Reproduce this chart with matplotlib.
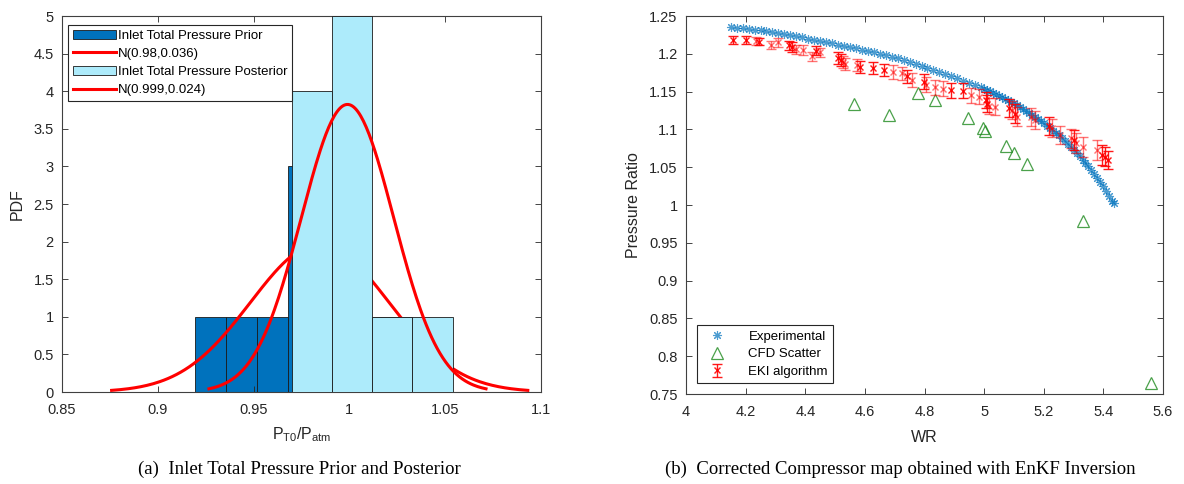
import matplotlib
matplotlib.use('Agg')
import matplotlib.pyplot as plt
import numpy as np

plt.rcParams['font.family'] = ['Liberation Sans', 'DejaVu Sans']
plt.rcParams['mathtext.fontset'] = 'custom'
plt.rcParams['mathtext.rm'] = 'Liberation Sans'
plt.rcParams['mathtext.it'] = 'Liberation Sans'

# %%
# (a) histogram data: bin edges and counts, plus fitted normals
prior_edges = [0.9195, 0.9357, 0.9519, 0.9681, 0.9843, 1.0005, 1.0167, 1.0329]
prior_counts = [1, 1, 1, 3, 3, 1, 1]
post_edges = [0.9698, 0.9908, 1.0117, 1.0327, 1.0539]
post_counts = [4, 5, 1, 1]
prior_mu, prior_sd = 0.9845, 0.0362
post_mu, post_sd = 0.999, 0.0241
hist_labels = ['Inlet Total Pressure Prior', 'N(0.98,0.036)',
               'Inlet Total Pressure Posterior', 'N(0.999,0.024)']

# (b) compressor map data
exp_wr = [4.15, 4.17, 4.19, 4.21, 4.23, 4.25, 4.27, 4.29, 4.31, 4.33,
          4.35, 4.37, 4.39, 4.41, 4.43, 4.45, 4.47, 4.49, 4.51, 4.53,
          4.55, 4.57, 4.59, 4.61, 4.63, 4.65, 4.67, 4.69, 4.71, 4.73,
          4.75, 4.77, 4.79, 4.81, 4.83, 4.85, 4.87, 4.89, 4.91, 4.93,
          4.95, 4.97, 4.99, 5.00, 5.01, 5.02, 5.03, 5.04, 5.05, 5.06,
          5.07, 5.08, 5.09, 5.10, 5.11, 5.12, 5.13, 5.14, 5.15, 5.16,
          5.17, 5.18, 5.19, 5.20, 5.21, 5.22, 5.23, 5.24, 5.25, 5.26,
          5.27, 5.28, 5.29, 5.30, 5.31, 5.32, 5.33, 5.34, 5.35, 5.36,
          5.37, 5.38, 5.39, 5.40, 5.41, 5.42, 5.43, 5.434]
exp_pr = [1.2355, 1.2347, 1.2339, 1.2330, 1.2320, 1.2310, 1.2298, 1.2286, 1.2273, 1.2259,
          1.2245, 1.2231, 1.2217, 1.2202, 1.2186, 1.2170, 1.2154, 1.2138, 1.2122, 1.2106,
          1.2090, 1.2073, 1.2056, 1.2038, 1.2019, 1.2000, 1.1980, 1.1960, 1.1938, 1.1914,
          1.1890, 1.1866, 1.1842, 1.1817, 1.1791, 1.1765, 1.1735, 1.1705, 1.1675, 1.1645,
          1.1615, 1.1585, 1.1555, 1.1540, 1.1521, 1.1502, 1.1483, 1.1464, 1.1445, 1.1425,
          1.1405, 1.1385, 1.1365, 1.1345, 1.1320, 1.1295, 1.1270, 1.1245, 1.1220, 1.1192,
          1.1164, 1.1136, 1.1108, 1.1080, 1.1048, 1.1016, 1.0984, 1.0952, 1.0920, 1.0882,
          1.0844, 1.0806, 1.0768, 1.0730, 1.0686, 1.0642, 1.0598, 1.0554, 1.0510, 1.0458,
          1.0406, 1.0354, 1.0302, 1.0250, 1.0184, 1.0118, 1.0052, 1.0020]

cfd_wr = [4.564, 4.682, 4.777, 4.835, 4.946, 4.995, 5.004, 5.074, 5.100, 5.144, 5.333, 5.559]
cfd_pr = [1.1331, 1.1191, 1.1476, 1.1388, 1.1155, 1.1015, 1.0984, 1.0782, 1.0694, 1.0545, 0.9793, 0.7640]

eki_wr = [4.158, 4.201, 4.236, 4.246, 4.285, 4.308, 4.347, 4.357, 4.370, 4.391,
          4.424, 4.437, 4.450, 4.509, 4.519, 4.527, 4.533, 4.574, 4.583, 4.627,
          4.664, 4.695, 4.726, 4.742, 4.757, 4.800, 4.806, 4.835, 4.862, 4.890,
          4.930, 4.955, 4.983, 5.005, 5.011, 5.017, 5.036, 5.085, 5.094, 5.102,
          5.110, 5.157, 5.172, 5.216, 5.226, 5.253, 5.290, 5.302, 5.308, 5.333,
          5.377, 5.395, 5.404, 5.416]
eki_pr = [1.218, 1.218, 1.217, 1.216, 1.212, 1.215, 1.211, 1.209, 1.206, 1.205,
          1.197, 1.204, 1.202, 1.194, 1.192, 1.189, 1.186, 1.185, 1.183, 1.181,
          1.178, 1.176, 1.174, 1.170, 1.165, 1.163, 1.159, 1.156, 1.154, 1.152,
          1.151, 1.145, 1.143, 1.139, 1.134, 1.131, 1.130, 1.128, 1.126, 1.121,
          1.117, 1.116, 1.113, 1.105, 1.102, 1.093, 1.088, 1.086, 1.082, 1.077,
          1.073, 1.066, 1.064, 1.059]
eki_err = [0.005, 0.005, 0.005, 0.005, 0.005, 0.006, 0.006, 0.006, 0.006, 0.006,
           0.006, 0.006, 0.006, 0.008, 0.008, 0.008, 0.008, 0.008, 0.008, 0.008,
           0.008, 0.009, 0.009, 0.009, 0.009, 0.010, 0.010, 0.010, 0.010, 0.010,
           0.010, 0.010, 0.010, 0.011, 0.011, 0.011, 0.011, 0.012, 0.012, 0.012,
           0.012, 0.012, 0.012, 0.012, 0.012, 0.012, 0.013, 0.013, 0.013, 0.013,
           0.013, 0.013, 0.013, 0.012]
# 1 = drawn solid, 0 = faded in the original
eki_solid = [1, 1, 0, 1, 0, 0, 1, 1, 0, 0,
             0, 1, 0, 1, 1, 0, 0, 0, 1, 1,
             1, 0, 0, 1, 0, 1, 0, 0, 0, 1,
             1, 0, 0, 1, 1, 0, 0, 1, 0, 1,
             0, 0, 0, 1, 0, 0, 0, 1, 0, 0,
             0, 1, 1, 1]
map_labels = ['Experimental', 'CFD Scatter', 'EKI algorithm']

captions = ['(a)  Inlet Total Pressure Prior and Posterior',
            '(b)  Corrected Compressor map obtained with EnKF Inversion']

# %%
fig = plt.figure(figsize=(11.84, 4.84), dpi=100)
ax1 = fig.add_axes([62/1184, 1-392/484, 479/1184, 376/484])
ax2 = fig.add_axes([686/1184, 1-394/484, 477/1184, 378/484])

tick_col = '#262626'
for ax in (ax1, ax2):
    ax.tick_params(direction='in', top=True, right=True, length=4,
                   width=0.6, labelsize=10.5, colors=tick_col)
    ax.tick_params(axis='x', pad=8)
    ax.tick_params(axis='y', pad=6)
    for s in ax.spines.values():
        s.set_color('#404040')
        s.set_linewidth(0.8)


def fit_curve(edges, counts, mu, sd):
    # histfit style: scaled normal pdf over mu +- 3 sd
    bw = edges[1] - edges[0]
    n = sum(counts)
    xx = np.linspace(mu - 3*sd, mu + 3*sd, 200)
    yy = n*bw*np.exp(-0.5*((xx - mu)/sd)**2)/(sd*np.sqrt(2*np.pi))
    return xx, yy


pe = np.array(prior_edges)
h1 = ax1.bar(pe[:-1], prior_counts, width=np.diff(pe), align='edge',
             color='#0072BD', edgecolor='#1a1a1a', linewidth=0.6, zorder=1)
xx, yy = fit_curve(prior_edges, prior_counts, prior_mu, prior_sd)
l1, = ax1.plot(xx, yy, color='red', lw=2.2, zorder=2)
qe = np.array(post_edges)
h2 = ax1.bar(qe[:-1], post_counts, width=np.diff(qe), align='edge',
             color='#ADEBFB', edgecolor='#1a1a1a', linewidth=0.6, zorder=3)
xx, yy = fit_curve(post_edges, post_counts, post_mu, post_sd)
l2, = ax1.plot(xx, yy, color='red', lw=2.2, zorder=4)

ax1.set_xlim(0.85, 1.1)
ax1.set_ylim(0, 5)
ax1.set_xticks(np.arange(0.85, 1.11, 0.05))
ax1.set_xticklabels(['0.85', '0.9', '0.95', '1', '1.05', '1.1'])
ax1.set_yticks(np.arange(0, 5.1, 0.5))
ax1.set_yticklabels(['0', '0.5', '1', '1.5', '2', '2.5', '3', '3.5', '4', '4.5', '5'])
ax1.set_ylabel('PDF', fontsize=11.5, color=tick_col, labelpad=6)
ax1.set_xlabel(r'$\mathregular{P_{T0}/P_{atm}}$', fontsize=11.5, color=tick_col, labelpad=6)
leg1 = ax1.legend([h1, l1, h2, l2], hist_labels, loc='upper left',
                  bbox_to_anchor=(6/479, 1-9/376), fontsize=9.5, frameon=True,
                  fancybox=False, framealpha=1, edgecolor='#262626',
                  handlelength=3.3, handletextpad=0.15, labelspacing=0.45,
                  borderpad=0.35, borderaxespad=0)
leg1.get_frame().set_linewidth(0.8)

# %%
ax2.plot(exp_wr, exp_pr, ls='none', marker=(8, 2, 0), ms=6.5, mew=0.8,
         color='#0072BD', alpha=0.7, label=map_labels[0])
ax2.plot(cfd_wr, cfd_pr, ls='none', marker='^', ms=8, mew=0.9,
         mfc='none', mec='#1e8a1e', alpha=0.8, label=map_labels[1])
solid = np.array(eki_solid) == 1
ew, ep, ee = np.array(eki_wr), np.array(eki_pr), np.array(eki_err)
ax2.errorbar(ew[~solid], ep[~solid], yerr=ee[~solid], fmt='x', color='red',
             ms=5, mew=1, capsize=3.5, elinewidth=1, capthick=1, alpha=0.55)
ax2.errorbar(ew[solid], ep[solid], yerr=ee[solid], fmt='x', color='red',
             ms=5, mew=1, capsize=3.5, elinewidth=1, capthick=1, alpha=0.9,
             label=map_labels[2])

ax2.set_xlim(4, 5.6)
ax2.set_ylim(0.75, 1.25)
ax2.set_xticks(np.arange(4, 5.61, 0.2))
ax2.set_xticklabels(['4', '4.2', '4.4', '4.6', '4.8', '5', '5.2', '5.4', '5.6'])
ax2.set_yticks(np.arange(0.75, 1.251, 0.05))
ax2.set_yticklabels(['0.75', '0.8', '0.85', '0.9', '0.95', '1', '1.05',
                     '1.1', '1.15', '1.2', '1.25'])
ax2.set_xlabel('WR', fontsize=11.5, color=tick_col, labelpad=8)
ax2.set_ylabel('Pressure Ratio', fontsize=11.5, color=tick_col, labelpad=6)
leg2 = ax2.legend(loc='lower left', bbox_to_anchor=(11/477, 11/378),
                  fontsize=9.5, frameon=True, fancybox=False, framealpha=1,
                  edgecolor='#262626', handlelength=2.2, handletextpad=1.3,
                  labelspacing=0.4, borderpad=0.4, borderaxespad=0)
leg2.get_frame().set_linewidth(0.8)

# captions under each panel
fig.text(299/1184, 1-469/484, captions[0], ha='center', va='center',
         fontsize=13.5, family='Liberation Serif')
fig.text(900/1184, 1-469/484, captions[1], ha='center', va='center',
         fontsize=13.5, family='Liberation Serif')

fig.savefig('out.png', dpi=100)
